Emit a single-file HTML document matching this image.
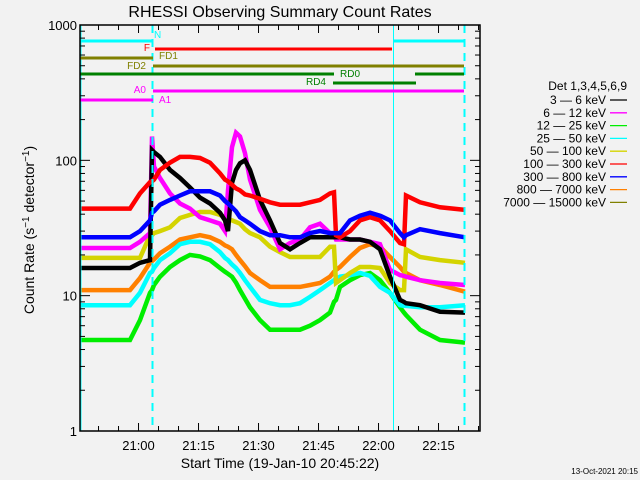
<!DOCTYPE html>
<html><head><meta charset="utf-8"><style>
body{margin:0;background:#f2f2f2;}
svg{display:block;font-family:"Liberation Sans",sans-serif;}
</style></head><body>
<svg id="c" width="640" height="480" viewBox="0 0 640 480">
<rect width="640" height="480" fill="#f2f2f2"/>
<text x="280" y="17" font-size="16" text-anchor="middle" fill="#000">RHESSI Observing Summary Count Rates</text>
<text x="280" y="468" font-size="14" text-anchor="middle">Start Time (19-Jan-10 20:45:22)</text>
<text transform="translate(34,230) rotate(-90)" font-size="14" text-anchor="middle">Count Rate (s<tspan baseline-shift="super" font-size="10">−1</tspan> detector<tspan baseline-shift="super" font-size="10">−1</tspan>)</text>
<text x="638" y="474" font-size="8" text-anchor="end">13-Oct-2021 20:15</text>
<g id="plot"></g>
<g id="legend"></g>
</svg>
<script>
const tickLabels=["21:00","21:15","21:30","21:45","22:00","22:15"];
const tickTimes=[14.63,29.63,44.63,59.63,74.63,89.63];
const yTicks=[1,10,100,1000];
const bands=["3 - 6 keV","6 - 12 keV","12 - 25 keV","25 - 50 keV","50 - 100 keV","100 - 300 keV","300 - 800 keV","800 - 7000 keV","7000 - 15000 keV"];
const bandColors=["#000000","#ff00ff","#00ee00","#00ffff","#d4d400","#ff0000","#0000ff","#ff8000","#808000"];
// time: minutes since 20:45:22
const times=[0,12.5,15,17.5,18,18.5,20,22.5,25,27.5,30,32.5,35,36.25,37,38,39,40,41.25,42.5,45,47.5,50,52.5,55,57.5,60,62.5,63.5,64,65,67.5,70,72.5,75,77.5,80,81,81.5,85,90,96.25];
const red=[44,44,57,69,70,72,85,96,106,106,104,96,80,72,70,66,62,60,56,55,52,49,47,47,47,49,51,57,58,28,27,30,36,38,36,30,24.5,24,55,49,45,43];
const blue=[27,27,30,36,41,42,43,47,51,55,59,59,59,55,50,48,45,42,38,36,34,30,28,28,27,27,29,30,29,29,29,36,39,41,39,36,29,27,28,31,29,27].slice(0,0);
const blueV=[27,27,30,36,41,42,47,51,55,59,59,59,55,50,48,45,42,38,36,34,30,28,28,27,27,29,30,29,29,29,29,36,39,41,39,36,29,27,28,31,29,27];
const magenta=[22.5,22.5,25,29,150,90,74,57,48,44,38,36,34,30,60,125,160,150,113,72,43,32,22,24.5,26,32,34,29,28,26,26,26,26,25,24,15.5,14.2,14,13.8,13,12.4,12];
const black=[16,16,17.5,18.3,119,115,106,85,74,63,53,48,41,36,30,68,85,95,100,85,51,36,24.5,22,24.5,27,27,27,27,27,27,26,26,25,22,13.8,9.3,9,8.8,8.5,7.6,7.5];
const yellow=[19,19,19,28,28,29,30,32,37.5,39.5,41.5,41.5,39.5,38,37,36,35,34,31,29,27,23,21,19.3,19.3,19.3,19.3,23,23,12.4,13,14.7,16.3,16.3,16,12.4,11,11,22,19.3,18.3,17.5];
const orange=[11,11,13.5,17.5,18,18.5,20.6,23,26,27,28,27,25,23.5,23,22,20,18.3,16.5,14.7,13,11.6,11.6,11.6,11.6,12,12.4,13.8,15,15.5,16.3,19.3,22.5,24,23,19.3,16.3,15,14.7,13,12,10.7];
const cyan=[8.5,8.5,10.5,14.7,15,16,18.3,20.6,24,25,25,24,21,19,18.3,17,16,14.7,13,11.6,9.3,8.8,8.5,8.5,8.8,9.8,11,12.4,13,13.3,13.8,14.2,14.7,14,11.6,10.5,8.5,8.4,8.4,8.2,8.2,8.5];
const green=[4.7,4.7,6.6,10.5,11,12,13.8,16.3,18.3,20,19.5,18.3,16,15,14.5,13.8,12.5,11,9.5,8.2,6.6,5.6,5.6,5.6,5.6,6,6.6,7.5,9,9.3,11.6,13,14.2,14.7,13,10.5,8.2,7.5,7.2,5.6,4.7,4.5];
const seriesList=[orange,green,cyan,yellow,magenta,black,red,blueV];
const seriesIdx=[7,2,3,4,1,0,5,6];
const X0=80,X1=480,Y0=431,Y1=25,TMAX=100;
const xs=t=>X0+(t/TMAX)*(X1-X0);
const ys=v=>Y0-(Math.log10(v)/3)*(Y0-Y1);
const NS="http://www.w3.org/2000/svg";
const plot=document.getElementById('plot');
function mk(tag,attrs,parent){const e=document.createElementNS(NS,tag);for(const k in attrs)e.setAttribute(k,attrs[k]);(parent||plot).appendChild(e);return e;}
seriesList.forEach((arr,i)=>{
  let d="";
  for(let k=0;k<times.length;k++){
    const x=xs(times[k]),y=ys(arr[k]);
    d+=(k?"L":"M")+x.toFixed(1)+","+y.toFixed(1);
  }
  const p=mk('path',{d:d,fill:'none',stroke:bandColors[seriesIdx[i]],'stroke-width':4.5,'stroke-linejoin':'miter'});
  
  
});
const v1=mk('line',{x1:80.5,x2:80.5,y1:Y1,y2:Y0,stroke:'#00ffff','stroke-width':2});


const v2=mk('line',{x1:393.5,x2:393.5,y1:Y1,y2:Y0,stroke:'#00ffff','stroke-width':1});


[152.5,464.5].forEach(x=>{const l=mk('line',{x1:x,x2:x,y1:Y1,y2:Y0,stroke:'#00ffff','stroke-width':2,'stroke-dasharray':'8,6'});

});
const flags=[["N","#00ffff",41,[[80,152],[393,464]],154,38,"start"],["F","#ff0000",49,[[155,392]],150,51,"end"],["FD1","#808000",58,[[80,153]],159,59,"start"],["FD2","#808000",66,[[153,464]],146,69,"end"],["RD0","#008000",74,[[80,334],[415,464]],340,77,"start"],["RD4","#008000",83,[[333,416]],326,85,"end"],["A0","#ff00ff",91,[[153,464]],146,93,"end"],["A1","#ff00ff",100,[[80,153]],159,103,"start"]];
flags.forEach(f=>{
  f[3].forEach(s=>{const l=mk('line',{x1:s[0],x2:s[1],y1:f[2],y2:f[2],stroke:f[1],'stroke-width':3});
  
  });
  const t=mk('text',{x:f[4],y:f[5],'font-size':10,fill:f[1],'text-anchor':f[6]});t.textContent=f[0];
  
  
});
const box=mk('rect',{x:X0,y:Y1,width:X1-X0,height:Y0-Y1,fill:'none',stroke:'#000','stroke-width':1.5});


for(let m=-10;m<=90;m+=5){const t=tickTimes[0]+m; if(t<0||t>TMAX)continue; const x=xs(t); const maj=(m%15===0); const L=maj?8:5;
  mk('line',{x1:x,x2:x,y1:Y0,y2:Y0-L,stroke:'#000'});mk('line',{x1:x,x2:x,y1:Y1,y2:Y1+L,stroke:'#000'});}
tickLabels.forEach((lab,i)=>{const t=mk('text',{x:xs(tickTimes[i]),y:Y0+19,'font-size':13,'text-anchor':'middle'});t.textContent=lab;

});
yTicks.forEach((v,i)=>{const y=ys(v);
  const t=mk('text',{x:X0-3,y:y+5,'font-size':13,'text-anchor':'end'});t.textContent=String(v);
  
  
  mk('line',{x1:X0,x2:X0+10,y1:y,y2:y,stroke:'#000'});mk('line',{x1:X1,x2:X1-10,y1:y,y2:y,stroke:'#000'});
  if(i<3)for(let k=2;k<10;k++){const yy=ys(v*k);mk('line',{x1:X0,x2:X0+5,y1:yy,y2:yy,stroke:'#000'});mk('line',{x1:X1,x2:X1-5,y1:yy,y2:yy,stroke:'#000'});}
});
const lg=document.getElementById('legend');
const hd=mk('text',{x:627,y:90,'font-size':12,'text-anchor':'end'},lg);hd.textContent="Det 1,3,4,5,6,9";


bands.forEach((b,i)=>{const y=100+i*12.8;
  const t=mk('text',{x:606,y:y+4,'font-size':12,'text-anchor':'end'},lg);t.textContent=b.replace(/-/g,'—');
  
  
  mk('line',{x1:610,x2:627,y1:y,y2:y,stroke:bandColors[i],'stroke-width':1.3},lg);
});
</script>
</body></html>
